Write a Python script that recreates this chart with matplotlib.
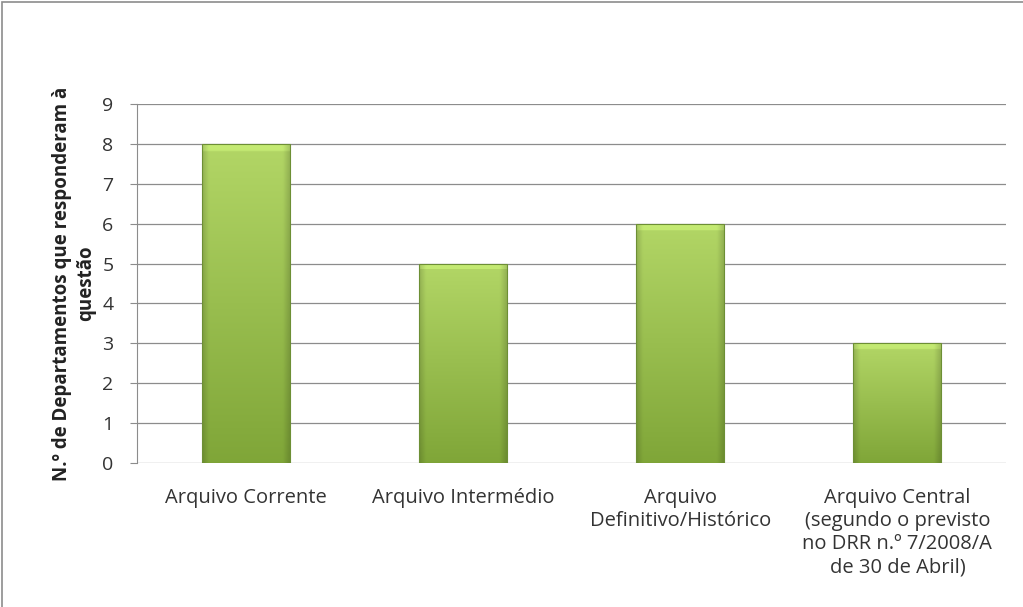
import matplotlib.pyplot as plt
import numpy as np
from matplotlib.patches import Rectangle

plt.rcParams['font.family'] = ['Open Sans', 'DejaVu Sans']

categorias = ['Arquivo Corrente', 'Arquivo Intermédio', 'Arquivo\nDefinitivo/Histórico',
              'Arquivo Central\n(segundo o previsto\nno DRR n.º 7/2008/A\nde 30 de Abril)']
valores = [8, 5, 6, 3]

fig = plt.figure(figsize=(10.23, 6.07), dpi=100, facecolor='white')
ax = fig.add_axes([137 / 1023, 1 - 463 / 607, 869 / 1023, 359 / 607])

# moldura exterior do gráfico
fig.patches.append(Rectangle((0.002, -0.01), 1.2, 1.0065, transform=fig.transFigure,
                             fill=False, edgecolor='#8c8c8c', linewidth=1.2))

x = np.arange(len(categorias))
largura = 0.405

# gradiente vertical (claro em cima) com escurecimento nas laterais
ny, nx = 200, 60
gy = np.linspace(0, 1, ny)[:, None]
gx = np.linspace(-1, 1, nx)[None, :]
topo = np.array([0.70, 0.84, 0.40])
base = np.array([0.50, 0.65, 0.22])
cor = base + (topo - base) * gy[..., None]
lado = 1 - 0.15 * np.clip((np.abs(gx) - 0.85) / 0.15, 0, 1)
cor = cor * lado[..., None]
cor = np.clip(cor, 0, 1)

for xi, v in zip(x, valores):
    barra = ax.bar(xi, v, width=largura, color='none', edgecolor='#6d8f35', linewidth=0.8, zorder=3)[0]
    img = cor.copy()
    # faixa de bisel mais clara no topo
    faixa = int(ny * 0.12 / v) + 2
    img[-faixa:] = np.clip(img[-faixa:] * 1.06 + 0.03, 0, 1)
    im = ax.imshow(img, extent=(xi - largura / 2, xi + largura / 2, 0, v), origin='lower',
                   aspect='auto', zorder=2, interpolation='bilinear')
    im.set_clip_path(barra)

ax.set_xlim(-0.5, len(categorias) - 0.5)
ax.set_ylim(0, 9)
ax.set_yticks(range(0, 10))
ax.yaxis.grid(True, color='#8c8c8c', linewidth=0.9)
ax.set_axisbelow(True)

for s in ['top', 'right', 'bottom']:
    ax.spines[s].set_visible(False)
ax.spines['left'].set_color('#8c8c8c')
ax.tick_params(axis='y', length=5, color='#8c8c8c', labelsize=14, pad=12, labelcolor='#333333')
ax.tick_params(axis='x', length=0, labelsize=14.5, pad=18, labelcolor='#333333')
ax.set_xticks(x)
ax.set_xticklabels(categorias, linespacing=1.2)

ax.set_ylabel('N.º de Departamentos que responderam à\nquestão', fontsize=13.5,
              fontweight='bold', labelpad=4, linespacing=1.3, color='#222222')

fig.savefig('out.png', dpi=100)
